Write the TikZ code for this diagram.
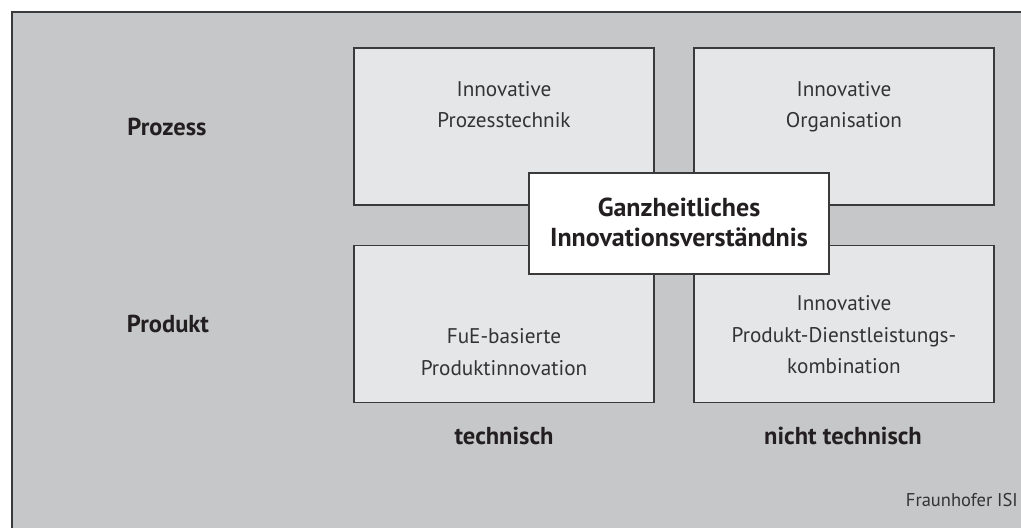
\documentclass[tikz,border=0pt]{standalone}
\usepackage{fontspec}
\setmainfont{PT Sans}
\definecolor{panel}{HTML}{C6C7C9}
\definecolor{cell}{HTML}{E5E6E8}
\definecolor{edge}{HTML}{3A3A3A}
\definecolor{ink}{HTML}{231F20}
\definecolor{soft}{HTML}{333333}
\begin{document}
\begin{tikzpicture}[x=1pt,y=-1pt,
  cellbox/.style={draw=edge, line width=1.3pt, fill=cell, minimum width=300pt,
    minimum height=157pt, inner sep=0pt},
  corebox/.style={draw=edge, line width=1.3pt, fill=white, minimum width=300pt,
    minimum height=101pt, inner sep=0pt},
  celltext/.style={text=soft, align=center, inner sep=0pt,
    font=\fontsize{21.2}{31.5}\selectfont},
  coretext/.style={text=ink, align=center, inner sep=0pt,
    font=\bfseries\fontsize{26}{30}\selectfont},
  axislabel/.style={text=ink, inner sep=0pt, font=\bfseries\fontsize{24.5}{28}\selectfont},
  sourcetext/.style={text=soft, inner sep=0pt, font=\fontsize{18.5}{22}\selectfont}]
\useasboundingbox (0,0) rectangle (1021,528);
% panel background with its top and left rules
\fill[panel] (12,12) rectangle (1021,528);
\draw[edge, line width=1.5pt] (12,528) -- (12,12) -- (1021,12);

% four quadrant cells
\node[cellbox] (procTech) at (504,126.5) {};
\node[cellbox] (procOrg)  at (844,126.5) {};
\node[cellbox] (prodTech) at (504,324) {};
\node[cellbox] (prodOrg)  at (844,324) {};

% central overlay
\node[corebox] (core) at (679,223.5) {};

% cell texts
\node[celltext] (procTechText) at (504,104.5) {Innovative\\Prozesstechnik};
\node[celltext] (procOrgText)  at (844,106.5) {Innovative\\Organisation};
\node[celltext] (prodTechText) at (504,352) {FuE-basierte\\Produktinnovation};
\node[celltext] (prodOrgText)  at (844,335) {Innovative\\Produkt-Dienstleistungs-\\kombination};
\node[coretext] (coreText) at (679,222) {Ganzheitliches\\Innovationsverständnis};

% axis labels
\node[axislabel] (rowProc) at (167,127) {Prozess};
\node[axislabel] (rowProd) at (168,324) {Produkt};
\node[axislabel] (colTech) at (504,436) {technisch};
\node[axislabel] (colNon)  at (843,436) {nicht technisch};

% source note
\node[sourcetext, anchor=east] (source) at (1018,500) {Fraunhofer ISI};
\end{tikzpicture}
\end{document}
